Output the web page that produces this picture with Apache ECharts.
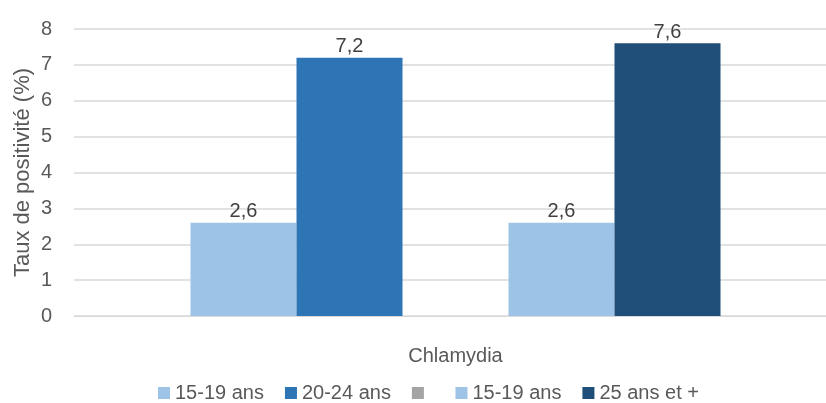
<!DOCTYPE html>
<html>
<head>
<meta charset="utf-8">
<script src="https://cdn.jsdelivr.net/npm/echarts@6/dist/echarts.min.js"></script>
<style>
  html, body { margin: 0; padding: 0; background: #fff; }
  #chart { width: 826px; height: 403px; }
</style>
</head>
<body>
<div id="chart"></div>
<script>
// Data
const categories = ['Chlamydia'];
const seriesNames = ['15-19 ans', '20-24 ans', ' ', '15-19 ans\u200b', '25 ans et +'];
const seriesValues = [[2.6], [7.2], [null], [2.6], [7.6]];
const seriesColors = ['#9DC3E6', '#2E75B6', '#A5A5A5', '#9DC3E6', '#1F4E79'];
const yTicks = { min: 0, max: 8, interval: 1 };

const font = 'Liberation Sans';
const textColor = '#595959';

const chart = echarts.init(document.getElementById('chart'), null, { renderer: 'canvas' });

chart.setOption({
  animation: false,
  backgroundColor: '#fff',
  grid: { left: 74, top: 29, width: 763, bottom: 87, outerBoundsMode: 'none' },
  legend: {
    left: 153,
    top: 378,
    itemWidth: 12,
    itemHeight: 12,
    itemGap: 21,
    icon: 'rect',
    textStyle: { fontFamily: font, fontSize: 20, color: textColor },
    data: seriesNames
  },
  xAxis: {
    type: 'category',
    data: categories,
    axisLine: { lineStyle: { color: '#d9d9d9' } },
    axisTick: { show: false },
    axisLabel: { margin: 30, fontFamily: font, fontSize: 20, color: textColor }
  },
  yAxis: {
    type: 'value',
    min: yTicks.min,
    max: yTicks.max,
    interval: yTicks.interval,
    name: 'Taux de positivité (%)',
    nameLocation: 'middle',
    nameGap: 40,
    nameRotate: 90,
    nameMoveOverlap: false,
    nameTextStyle: { fontFamily: font, fontSize: 22, color: textColor },
    axisLine: { show: false },
    axisTick: { show: false },
    splitLine: { lineStyle: { color: '#d9d9d9', width: 1.5 } },
    axisLabel: { margin: 22, fontFamily: font, fontSize: 20, color: textColor }
  },
  series: seriesNames.map((name, i) => ({
    name,
    type: 'bar',
    data: seriesValues[i],
    barWidth: 106,
    barGap: '0%',
    itemStyle: { color: seriesColors[i] },
    label: {
      show: true,
      position: 'top',
      distance: 1,
      fontFamily: font,
      fontSize: 20,
      color: '#404040',
      formatter: p => String(p.value).replace('.', ',')
    }
  }))
});
</script>
</body>
</html>
